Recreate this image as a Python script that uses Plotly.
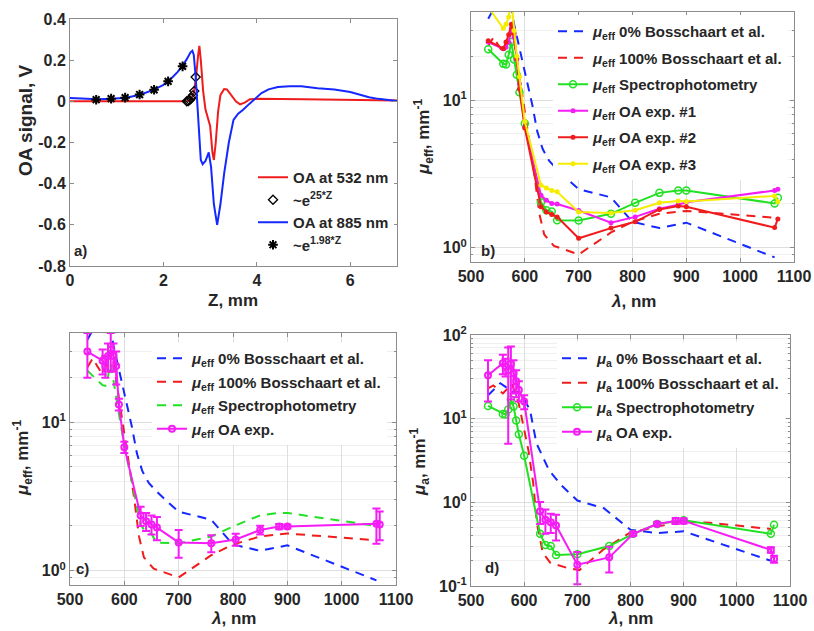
import math
import plotly.graph_objects as go

# ---------------- panel a: OA signal vs depth ----------------
Z_532 = [0.0, 0.5, 1.0, 1.5, 2.0, 2.5, 2.55, 2.6, 2.65, 2.7, 2.74, 2.77, 2.8, 2.85, 2.9, 2.95,
         3.0, 3.05, 3.08, 3.12, 3.17, 3.22, 3.3, 3.36, 3.45, 3.55, 3.64, 3.75, 3.85, 4.0, 5.0, 6.0, 7.0]
V_532 = [0.0, 0.0, 0.0, 0.0, 0.0, 0.0, 0.004, 0.014, 0.04, 0.12, 0.22, 0.27, 0.2, 0.05, -0.04, -0.075,
         -0.12, -0.25, -0.285, -0.2, -0.05, 0.03, 0.06, 0.058, 0.03, 0.0, -0.015, -0.005, 0.01, 0.012, 0.01, 0.008, 0.004]

Z_885 = [0.0, 0.3, 0.6, 0.9, 1.2, 1.5, 1.8, 2.0, 2.1, 2.2, 2.3, 2.4, 2.5, 2.58, 2.62, 2.65, 2.69, 2.72,
         2.76, 2.8, 2.84, 2.9, 2.97, 3.02, 3.08, 3.15, 3.22, 3.3, 3.4, 3.5, 3.6, 3.7, 3.85, 3.95,
         4.1, 4.25, 4.45, 4.7, 4.95, 5.3, 5.66, 6.0, 6.2, 6.4, 6.6, 6.8, 7.0]
V_885 = [0.016, 0.012, 0.01, 0.012, 0.017, 0.032, 0.057, 0.08, 0.097, 0.118, 0.142, 0.17, 0.205, 0.238, 0.246, 0.225, 0.12, 0.0,
         -0.17, -0.285, -0.305, -0.29, -0.248, -0.32, -0.5, -0.6, -0.5, -0.35, -0.2, -0.09, -0.06, -0.042, -0.01, 0.01,
         0.04, 0.058, 0.07, 0.073, 0.073, 0.064, 0.058, 0.045, 0.033, 0.02, 0.012, 0.007, 0.002]

FIT25_Z = [2.50, 2.53, 2.56, 2.59, 2.63, 2.66, 2.69]
FIT25_V = [0.0, 0.002, 0.006, 0.014, 0.029, 0.05, 0.118]
FIT198_Z = [0.56, 0.88, 1.18, 1.49, 1.80, 2.10, 2.41]
FIT198_V = [0.008, 0.013, 0.018, 0.033, 0.056, 0.097, 0.17]

# ---------------- panels b-d: optical coefficients vs wavelength ----------------
WL = [532, 560, 565, 570, 575, 580, 585, 590, 600, 630, 640, 650, 660, 700, 760, 805, 850, 885, 900, 1064, 1070]

MUEFF_SPEC = [22.3, 17.8, 17.6, 20.5, 25, 19, 15, 11.4, 7.0, 2.04, 1.80, 1.76, 1.54, 1.53, 1.70, 2.02, 2.36, 2.45, 2.45, 2.0, 2.19]
MUEFF_OA1 = [25, 22.5, 23, 25, 31, 27, 19, 13, 6.6, 2.27, 2.1, 2.0, 1.98, 1.79, 1.48, 1.62, 1.84, 1.96, 2.04, 2.45, 2.5]
MUEFF_OA2 = [25.5, 22.6, 25, 28, 33, 28.6, 19.3, 12, 6.5, 1.9, 1.75, 1.68, 1.62, 1.16, 1.36, 1.50, 1.82, 1.92, 1.9, 1.37, 1.57]
MUEFF_OA3 = [43, 31, 33, 37, 48, 30, 20, 14.5, 7.2, 2.66, 2.55, 2.45, 2.4, 1.75, 1.72, 1.8, 2.02, 2.08, 2.06, 2.25, 2.05]

MUEFF_OA = [30, 26, 24, 28, 31, 28, 24, 13.2, 6.8, 2.35, 2.15, 2.05, 1.95, 1.55, 1.53, 1.62, 1.88, 1.98, 1.98, 2.07, 2.05]
MUEFF_OA_ERR = [10, 5, 4, 6, 9, 6, 6, 1.2, 0.6, 0.35, 0.3, 0.3, 0.35, 0.33, 0.2, 0.15, 0.13, 0.08, 0.06, 0.55, 0.45]

MUA_SPEC = [14.2, 11.4, 11.2, 12.9, 17, 14, 9.5, 6.5, 3.6, 0.42, 0.31, 0.30, 0.235, 0.24, 0.30, 0.42, 0.55, 0.60, 0.61, 0.42, 0.54]
MUA_OA = [33, 46, 42, 38, 45, 35, 28, 22, 16, 0.78, 0.62, 0.58, 0.53, 0.18, 0.22, 0.42, 0.55, 0.60, 0.60, 0.27, 0.21]
MUA_OA_ERR = [17, 12, 10, 33, 28, 15, 10, 6, 3, 0.23, 0.2, 0.15, 0.18, 0.075, 0.075, 0.02, 0.03, 0.05, 0.04, 0.02, 0.02]

# Bosschaart et al. reference spectra (0% and 100% oxygen saturation)
BOSS_EFF0_WL = [532, 545, 560, 575, 580, 592, 605, 614, 623, 633, 645, 660, 680, 700, 760, 800, 850, 900, 1064]
BOSS_EFF0 = [36, 44, 48, 43, 33, 21.4, 13.4, 9.3, 6.2, 4.7, 3.9, 3.4, 2.9, 2.5, 2.2, 1.5, 1.36, 1.48, 0.86]
BOSS_EFF100_WL = [532, 542, 550, 560, 577, 585, 596, 605, 618, 627, 636, 654, 680, 700, 760, 800, 850, 900, 1064]
BOSS_EFF100 = [23.5, 27, 24, 21, 30, 19, 10.2, 6.4, 3.1, 1.7, 1.23, 1.03, 0.95, 0.9, 1.27, 1.5, 1.7, 1.78, 1.6]
BOSS_A0_WL = [532, 545, 555, 565, 575, 590, 600, 611, 623, 647, 670, 700, 750, 800, 850, 900, 1064]
BOSS_A0 = [19, 23, 26.5, 24, 21, 21, 17, 12.7, 5.1, 2.4, 1.6, 1.05, 0.85, 0.47, 0.43, 0.45, 0.20]
BOSS_A100_WL = [532, 542, 560, 577, 590, 598, 608, 617, 624, 635, 649, 680, 704, 748, 798, 849, 898, 949, 1064]
BOSS_A100 = [23, 25, 20, 26, 15, 8.8, 4.2, 1.7, 0.56, 0.25, 0.19, 0.165, 0.155, 0.27, 0.43, 0.51, 0.59, 0.57, 0.48]

# ---------------- styling ----------------
FONT = "Liberation Sans, Arial, sans-serif"
TXT = "#262626"
RED = "#f01c1c"
BLUE = "#1428ff"
GREEN = "#22e022"
MAGENTA = "#f51cf5"
YELLOW = "#f5ec00"
AXC = "#8c8c8c"
GRID = "#dedede"
MINOR = "#efefef"
DASH = "9px,7px"

W, H = 814, 631


def dom_x(a, b):
    return [a / W, b / W]


def dom_y(top, bottom):
    return [1 - bottom / H, 1 - top / H]


MU = "<i>μ</i>"
EFF = MU + "<sub>eff</sub>"
MA = MU + "<sub>a</sub>"

fig = go.Figure()

# panel a
fig.add_trace(go.Scatter(x=Z_532, y=V_532, mode="lines", line=dict(color=RED, width=2),
                         name="OA at 532 nm", legend="legend", xaxis="x", yaxis="y", legendgroup="a1"))
fig.add_trace(go.Scatter(x=FIT25_Z, y=FIT25_V, mode="markers",
                         marker=dict(symbol="diamond-open", color="black", size=7, line=dict(width=1.3)),
                         name="~e<sup>25*Z</sup>", legend="legend", xaxis="x", yaxis="y", legendgroup="a2"))
fig.add_trace(go.Scatter(x=Z_885, y=V_885, mode="lines", line=dict(color=BLUE, width=2),
                         name="OA at 885 nm", legend="legend", xaxis="x", yaxis="y", legendgroup="a3"))
fig.add_trace(go.Scatter(x=FIT198_Z, y=FIT198_V, mode="markers",
                         marker=dict(symbol="asterisk-open", color="black", size=8, line=dict(width=2, color="black")),
                         name="~e<sup>1.98*Z</sup>", legend="legend", xaxis="x", yaxis="y", legendgroup="a4"))

# panel b
fig.add_trace(go.Scatter(x=BOSS_EFF0_WL, y=BOSS_EFF0, mode="lines", line=dict(color=BLUE, width=2, dash=DASH),
                         name=EFF + " 0% Bosschaart et al.", legend="legend2", xaxis="x2", yaxis="y2", legendgroup="b1"))
fig.add_trace(go.Scatter(x=BOSS_EFF100_WL, y=BOSS_EFF100, mode="lines", line=dict(color=RED, width=2, dash=DASH),
                         name=EFF + " 100% Bosschaart et al.", legend="legend2", xaxis="x2", yaxis="y2", legendgroup="b2"))
fig.add_trace(go.Scatter(x=WL, y=MUEFF_SPEC, mode="lines+markers", line=dict(color=GREEN, width=2),
                         marker=dict(symbol="circle-open", size=7, color=GREEN, line=dict(width=1.5)),
                         name=EFF + " Spectrophotometry", legend="legend2", xaxis="x2", yaxis="y2", legendgroup="b3"))
fig.add_trace(go.Scatter(x=WL, y=MUEFF_OA1, mode="lines+markers", line=dict(color=MAGENTA, width=2),
                         marker=dict(symbol="circle", size=5, color=MAGENTA),
                         name=EFF + " OA exp. #1", legend="legend2", xaxis="x2", yaxis="y2", legendgroup="b4"))
fig.add_trace(go.Scatter(x=WL, y=MUEFF_OA2, mode="lines+markers", line=dict(color=RED, width=2),
                         marker=dict(symbol="circle", size=5, color=RED),
                         name=EFF + " OA exp. #2", legend="legend2", xaxis="x2", yaxis="y2", legendgroup="b5"))
fig.add_trace(go.Scatter(x=WL, y=MUEFF_OA3, mode="lines+markers", line=dict(color=YELLOW, width=2),
                         marker=dict(symbol="circle", size=5, color=YELLOW),
                         name=EFF + " OA exp. #3", legend="legend2", xaxis="x2", yaxis="y2", legendgroup="b6"))

# panel c
fig.add_trace(go.Scatter(x=BOSS_EFF0_WL, y=BOSS_EFF0, mode="lines", line=dict(color=BLUE, width=2, dash=DASH),
                         name=EFF + " 0% Bosschaart et al.", legend="legend3", xaxis="x3", yaxis="y3", legendgroup="c1"))
fig.add_trace(go.Scatter(x=BOSS_EFF100_WL, y=BOSS_EFF100, mode="lines", line=dict(color=RED, width=2, dash=DASH),
                         name=EFF + " 100% Bosschaart et al.", legend="legend3", xaxis="x3", yaxis="y3", legendgroup="c2"))
fig.add_trace(go.Scatter(x=WL, y=MUEFF_SPEC, mode="lines", line=dict(color=GREEN, width=2, dash=DASH),
                         name=EFF + " Spectrophotometry", legend="legend3", xaxis="x3", yaxis="y3", legendgroup="c3"))
fig.add_trace(go.Scatter(x=WL, y=MUEFF_OA, mode="lines+markers", line=dict(color=MAGENTA, width=2),
                         marker=dict(symbol="circle-open", size=6, color=MAGENTA, line=dict(width=2)),
                         error_y=dict(type="data", array=MUEFF_OA_ERR, color=MAGENTA, thickness=2, width=4),
                         name=EFF + " OA exp.", legend="legend3", xaxis="x3", yaxis="y3", legendgroup="c4"))

# panel d
fig.add_trace(go.Scatter(x=BOSS_A0_WL, y=BOSS_A0, mode="lines", line=dict(color=BLUE, width=2, dash=DASH),
                         name=MA + " 0% Bosschaart et al.", legend="legend4", xaxis="x4", yaxis="y4", legendgroup="d1"))
fig.add_trace(go.Scatter(x=BOSS_A100_WL, y=BOSS_A100, mode="lines", line=dict(color=RED, width=2, dash=DASH),
                         name=MA + " 100% Bosschaart et al.", legend="legend4", xaxis="x4", yaxis="y4", legendgroup="d2"))
fig.add_trace(go.Scatter(x=WL, y=MUA_SPEC, mode="lines+markers", line=dict(color=GREEN, width=2),
                         marker=dict(symbol="circle-open", size=7, color=GREEN, line=dict(width=1.5)),
                         name=MA + " Spectrophotometry", legend="legend4", xaxis="x4", yaxis="y4", legendgroup="d3"))
fig.add_trace(go.Scatter(x=WL, y=MUA_OA, mode="lines+markers", line=dict(color=MAGENTA, width=2),
                         marker=dict(symbol="circle-open", size=6, color=MAGENTA, line=dict(width=2)),
                         error_y=dict(type="data", array=MUA_OA_ERR, color=MAGENTA, thickness=2, width=4),
                         name=MA + " OA exp.", legend="legend4", xaxis="x4", yaxis="y4", legendgroup="d4"))

tickfont = dict(family=FONT, size=16, color=TXT, weight="bold")


def lin_axis(dom, rng, vals, texts, anchor, grid):
    return dict(domain=dom, range=rng, tickvals=vals, ticktext=texts, anchor=anchor,
                showline=True, linecolor=AXC, linewidth=1, mirror="allticks",
                ticks="inside", ticklen=4, tickcolor=AXC, showgrid=grid, gridcolor=GRID,
                zeroline=False, tickfont=tickfont, automargin=False)


def log_axis(dom, lo, hi, decades, anchor):
    minor_vals = []
    for d in [decades[0] - 1] + decades:
        for k in range(2, 10):
            v = k * 10 ** d
            if lo <= v <= hi:
                minor_vals.append(v)
    majors = [10 ** d for d in decades]
    return dict(domain=dom, type="log", range=[math.log10(lo), math.log10(hi)],
                tickvals=majors, ticktext=["10<sup>%d</sup>" % d for d in decades], anchor=anchor,
                showline=True, linecolor=AXC, linewidth=1, mirror="allticks",
                ticks="inside", ticklen=4, tickcolor=AXC, showgrid=True, gridcolor=GRID,
                zeroline=False, tickfont=tickfont, automargin=False,
                minor=dict(tickvals=minor_vals, showgrid=True, gridcolor=MINOR, ticks="inside",
                           ticklen=2, tickcolor=AXC))


WL_TICKS = [500, 600, 700, 800, 900, 1000, 1100]
WL_TEXT = [str(v) for v in WL_TICKS]

dom_a = (dom_x(70, 397), dom_y(19, 266))
dom_b = (dom_x(471, 794), dom_y(12, 262))
dom_c = (dom_x(70, 396), dom_y(333, 585))
dom_d = (dom_x(471, 790), dom_y(335, 586))

legfont = dict(family=FONT, size=15, color=TXT, weight="bold")


def legend_at(x, y, gap):
    return dict(x=x / W, y=1 - y / H, xanchor="left", yanchor="top", bgcolor="white",
                borderwidth=0, font=legfont, tracegroupgap=gap, itemwidth=30)


annos = []


def label(text, x, y, size=17, angle=0):
    annos.append(dict(text=text, x=x / W, y=1 - y / H, xref="paper", yref="paper", showarrow=False,
                      textangle=angle, xanchor="center", yanchor="middle",
                      font=dict(family=FONT, size=size, color=TXT, weight="bold")))


label("Z, mm", 233, 300)
label("OA signal, V", 25, 120, size=19, angle=-90)
label("<i>λ</i>, nm", 633, 301)
label(EFF + ", mm<sup>-1</sup>", 423, 137, angle=-90)
label("<i>λ</i>, nm", 233, 618)
label(EFF + ", mm<sup>-1</sup>", 22, 458, angle=-90)
label("<i>λ</i>, nm", 630, 618)
label(MA + ", mm<sup>-1</sup>", 420, 462, angle=-90)
label("a)", 80, 250, size=15)
label("b)", 488, 250, size=15)
label("c)", 82, 568, size=15)
label("d)", 492, 567, size=15)

fig.update_layout(
    width=W, height=H, margin=dict(l=0, r=0, t=0, b=0, autoexpand=False),
    paper_bgcolor="white", plot_bgcolor="white",
    font=dict(family=FONT, size=15, color=TXT, weight="bold"),
    xaxis=lin_axis(dom_a[0], [0, 7], [0, 2, 4, 6], ["0", "2", "4", "6"], "y", False),
    yaxis=lin_axis(dom_a[1], [-0.8, 0.4], [-0.8, -0.6, -0.4, -0.2, 0, 0.2, 0.4],
                   ["-0.8", "-0.6", "-0.4", "-0.2", "0", "0.2", "0.4"], "x", False),
    xaxis2=lin_axis(dom_b[0], [500, 1100], WL_TICKS, WL_TEXT, "y2", True),
    yaxis2=log_axis(dom_b[1], 0.8, 40, [0, 1], "x2"),
    xaxis3=lin_axis(dom_c[0], [500, 1100], WL_TICKS, WL_TEXT, "y3", True),
    yaxis3=log_axis(dom_c[1], 0.8, 40, [0, 1], "x3"),
    xaxis4=lin_axis(dom_d[0], [500, 1100], WL_TICKS, WL_TEXT, "y4", True),
    yaxis4=log_axis(dom_d[1], 0.1, 100, [-1, 0, 1, 2], "x4"),
    legend=legend_at(253, 161, 0),
    legend2=legend_at(553, 15, 4),
    legend3=legend_at(152, 342, 1),
    legend4=legend_at(557, 342, 2),
    annotations=annos,
    showlegend=True,
)

fig.write_html("out.html")
